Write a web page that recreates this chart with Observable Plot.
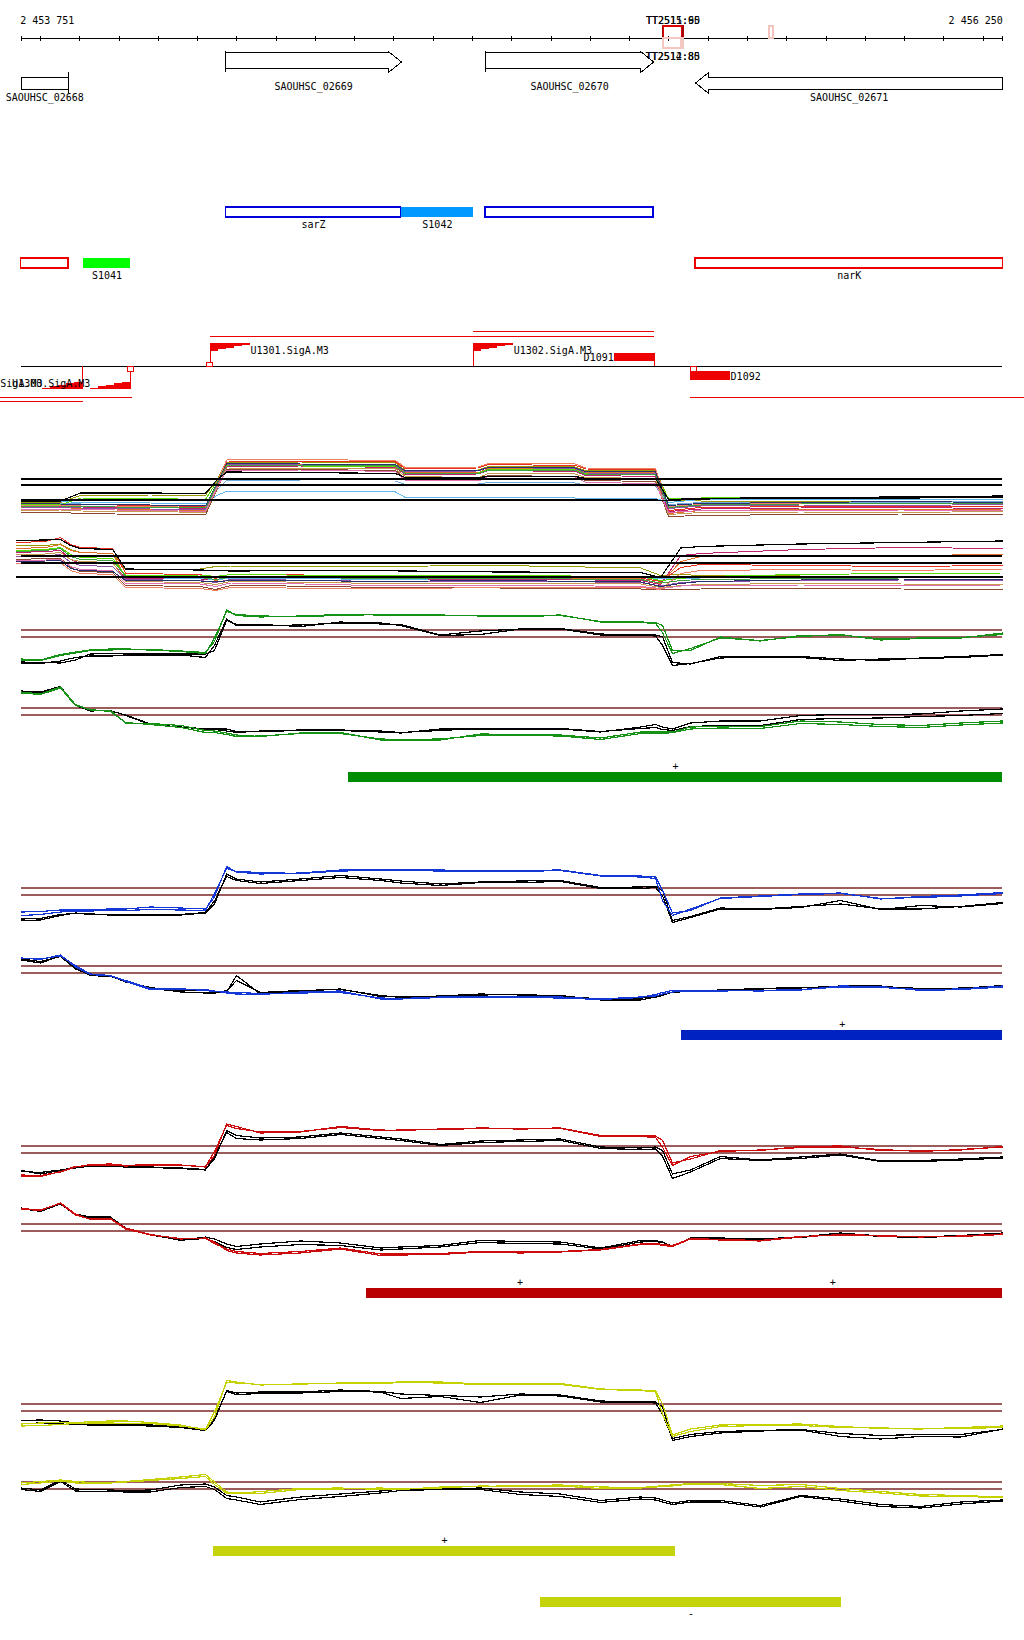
<!DOCTYPE html>
<html><head><meta charset="utf-8">
<script src="https://cdn.jsdelivr.net/npm/d3@7"></script>
<script src="https://cdn.jsdelivr.net/npm/@observablehq/plot@0.6"></script>
<style>
html,body{margin:0;padding:0;background:#fff;}
#chart{width:1024px;}
#chart svg{display:block;}
#chart svg path, #chart svg line, #chart svg rect{shape-rendering:crispEdges;}
</style></head><body><div id="chart"></div>
<script>
const START = 2453751, END = 2456250;

// ---- genes (top track)
const geneNames = ["SAOUHSC_02668","SAOUHSC_02669","SAOUHSC_02670","SAOUHSC_02671"];
const geneStarts = [2453700, 2454272, 2454933, 2455468];
const geneEnds = [2453871, 2454719, 2455361, 2456330];
const geneStrands = ["-","+","+","-"];

// ---- annotated features
const featNames = ["sarZ","S1042","","","S1041","narK"];
const featStarts = [2454272, 2454718, 2454933, 2453700, 2453910, 2455468];
const featEnds = [2454718, 2454903, 2455361, 2453871, 2454029, 2456330];
const featStrands = ["+","+","+","-","-","-"];
const featTypes = ["CDS","sRNA","CDS","CDS","sRNA","CDS"];

// ---- terminators
const termNames = ["TT2511","TT2515","TT2512","TT2514","TT2518"];
const termStarts = [2455384, 2455387, 2455384, 2455387, 2455656];
const termEnds = [2455437, 2455434, 2455437, 2455432, 2455666];
const termStrands = ["+","+","-","-","+"];
const termScores = [95, 60, 85, 80, 30];

// ---- promoters, TSS, D elements, transcripts
const promNames = ["U1299.SigA.M3","U1300.SigA.M3","U1301.SigA.M3","U1302.SigA.M3"];
const promPos = [2453907, 2454029, 2454233, 2454903];
const promStrands = ["-","-","+","+"];
const tssPos = [2454031, 2454232, 2455464];
const tssStrands = ["-","+","-"];
const dNames = ["D1091","D1092"];
const dStarts = [2455262, 2455455];
const dEnds = [2455363, 2455557];
const dStrands = ["+","-"];
const txStarts = [2454233, 2454903, 2453600, 2453600, 2455456];
const txEnds = [2455363, 2455363, 2454034, 2453910, 2456400];
const txStrands = ["+","+","-","-","-"];

// ---- multi-condition profiles (offsets in bp from START)
const multiPlusPos = [0,100,151,329,469,497,523,711,953,978,1164,1190,1411,1437,1615,1648,1730,1984,2239,2499];
const multiPlus = [
 [4.6,4.6,6.0,6.1,6.0,9.0,12.6,12.7,12.5,11.0,11.1,11.8,11.7,11.0,11.0,5.2,4.9,4.8,4.7,4.9],
 [4.2,4.3,4.2,4.0,3.8,8.0,12.9,12.8,12.7,11.4,11.5,12.2,12.0,11.3,11.2,3.0,3.6,3.8,3.9,3.7],
 [3.5,3.6,3.4,3.2,3.0,7.5,12.3,12.2,12.0,10.6,10.6,11.4,11.3,10.6,10.5,2.4,3.0,3.2,3.1,3.3],
 [3.9,3.8,3.7,3.6,3.4,8.0,11.8,11.9,11.6,10.2,10.3,11.0,10.8,10.0,9.8,2.8,3.3,3.5,3.6,3.4],
 [4.8,4.8,4.6,4.5,4.3,6.0,6.8,6.8,6.7,5.6,5.6,5.6,5.5,5.5,5.4,4.6,5.2,5.3,5.2,5.3],
 [4.4,4.4,4.3,4.1,4.0,7.0,9.0,8.9,8.9,8.2,8.3,8.6,8.5,8.0,7.9,4.2,4.6,4.7,4.6,4.8],
 [4.2,4.1,5.5,5.4,5.2,8.6,12.0,11.9,11.8,10.4,10.5,11.2,11.1,10.4,10.2,5.4,5.5,5.6,5.5,5.6],
 [2.6,2.6,2.4,2.2,2.1,7.0,11.2,11.2,11.0,9.4,9.2,10.0,9.8,9.0,8.8,1.8,2.0,2.2,2.3,2.1],
 [3.0,3.1,2.9,2.8,2.6,7.2,11.5,11.4,11.3,9.8,9.6,10.4,10.3,9.6,9.4,2.2,2.6,2.7,2.6,2.8],
 [3.7,3.6,3.5,3.3,3.2,7.8,12.2,12.3,12.0,10.8,10.9,11.6,11.4,10.5,10.4,3.4,3.9,4.1,4.0,4.2],
 [3.3,3.3,3.2,3.0,2.8,7.4,11.0,11.1,10.8,9.0,8.9,9.9,9.7,8.6,8.4,2.6,3.0,3.0,3.1,3.0],
 [4.0,4.0,3.9,3.8,3.6,8.3,13.1,13.2,13.0,11.6,11.7,12.4,12.3,11.5,11.4,3.8,4.2,4.4,4.3,4.4],
 [4.4,4.3,4.2,4.1,3.9,8.2,12.4,12.3,12.2,10.9,11.0,11.6,11.5,10.8,10.7,4.0,4.4,4.6,4.8,4.6],
 [3.8,3.9,3.8,3.6,3.5,8.0,12.1,12.0,11.9,10.4,10.4,11.1,11.0,10.2,10.1,3.6,4.1,4.3,4.4,4.3],
 [4.9,4.9,6.5,6.5,6.4,9.0,10.7,10.6,10.4,9.6,9.6,9.8,9.8,9.4,9.4,5.2,5.4,5.6,5.7,5.9],
 [5.1,5.1,5.1,5.1,5.1,5.1,5.1,5.1,5.1,5.1,5.1,5.1,5.1,5.1,5.1,5.0,5.3,5.5,5.5,5.6]
];
const multiPlusColors = ["#9a9a00","#e83020","#e07028","#c02070","#60b8f0","#70a8e0","#55dd00","#8b4a30","#c89a50","#9050a8","#e070b0","#f08060","#283070","#40a040","#000000","#000000"];
const multiPlusRefs = [9.3, 8.1];

const multiMinusPos = [-12,62,100,126,151,233,266,456,495,533,813,864,1220,1577,1628,1679,1730,1984,2239,2499];
const multiMinus = [
 [9.9,10.0,10.3,9.2,8.6,8.4,5.2,5.3,5.8,5.9,5.9,5.8,6.0,5.5,4.0,4.2,4.0,3.9,3.8,3.9],
 [10.6,10.8,11.6,10.2,9.6,9.4,4.4,4.2,3.4,4.3,4.0,3.6,3.8,3.5,2.8,5.6,6.2,6.0,5.8,6.0],
 [9.4,9.6,10.2,9.0,8.6,8.4,3.6,3.8,3.0,3.8,3.5,3.6,3.5,3.3,2.4,6.8,7.8,8.0,8.0,8.2],
 [8.6,8.8,9.0,7.2,6.4,6.4,3.4,3.3,3.2,3.6,3.4,3.2,3.3,3.0,2.2,8.0,8.4,9.2,9.6,9.4],
 [3.8,3.8,3.8,3.8,3.8,3.8,3.6,3.4,3.2,3.4,3.3,3.2,3.4,3.6,3.3,3.4,3.5,3.6,3.7,3.7],
 [9.0,9.2,9.6,8.2,7.6,7.4,4.0,4.1,3.8,4.2,4.0,3.9,4.0,3.8,3.0,3.4,3.8,4.2,4.4,4.5],
 [7.2,7.4,7.4,5.6,4.8,4.6,2.0,1.8,1.2,2.0,1.8,1.6,1.5,1.3,1.1,1.2,1.3,1.4,1.3,1.2],
 [8.2,8.3,8.6,7.2,6.8,6.6,2.8,2.6,2.2,2.8,2.6,2.4,2.5,2.3,1.6,2.0,2.2,2.4,2.3,2.2],
 [7.8,7.9,8.2,6.6,6.0,5.8,3.2,3.0,2.6,3.2,3.0,2.8,2.9,2.6,1.9,2.6,2.8,3.0,3.1,3.0],
 [7.0,7.1,7.2,5.8,5.2,5.0,2.4,2.3,1.8,2.5,2.2,2.0,2.1,1.8,1.4,1.9,2.0,2.1,2.0,2.1],
 [6.4,6.5,6.6,5.0,4.4,4.2,1.6,1.4,1.0,1.6,1.4,1.3,1.6,1.6,1.2,4.4,5.0,5.2,5.0,5.3],
 [6.8,6.9,7.0,5.4,5.0,4.8,3.0,2.9,2.7,3.0,2.9,2.8,3.0,2.7,1.8,2.4,2.8,3.1,3.3,3.2],
 [8.8,9.0,9.4,7.8,7.2,7.0,3.8,3.6,3.2,3.7,3.5,3.4,3.4,3.2,2.5,3.0,3.2,3.4,3.5,3.6],
 [11.0,11.1,11.2,10.0,9.4,9.2,5.3,5.1,5.0,4.9,5.0,5.0,4.7,4.6,3.6,9.5,9.8,10.3,10.6,10.9],
 [3.7,3.7,3.7,3.7,3.7,3.7,3.7,3.7,3.7,3.7,3.7,3.7,3.7,3.7,3.7,3.7,3.7,3.7,3.7,3.7]
];
const multiMinusColors = ["#9a9a00","#e83020","#e07028","#c02070","#60b8f0","#55dd00","#8b4a30","#c89a50","#9050a8","#e070b0","#f08060","#283070","#40a040","#000000","#000000"];
const multiMinusRefs = [7.9, 6.5];

// ---- per-condition profiles: shared positions (bp offsets)
const profilePos = [0,49,100,138,176,227,266,329,406,469,492,523,548,609,711,813,915,966,1067,1169,1271,1373,1475,1577,1615,1633,1658,1704,1780,1882,1984,2086,2188,2290,2392,2499];
const fwdRefs = [8.1, 6.7];
const revRefs = [7.5, 6.1];

const greenFwd1 = [2.3,2.1,3.2,3.7,4.1,4.3,4.3,4.2,3.9,3.6,5.8,12.1,11.0,10.7,10.9,11.2,11.1,11.1,11.1,10.9,10.9,11.1,9.7,9.7,9.6,9.0,4.0,4.0,6.7,5.9,7.0,7.1,6.3,6.5,6.5,7.5];
const greenFwd2 = [2.1,2.0,3.0,3.5,4.0,4.1,4.2,4.1,3.8,3.4,6.5,11.8,11.2,10.9,10.8,11.0,11.2,11.0,11.0,11.0,10.8,11.0,9.8,9.6,9.4,7.5,3.4,4.4,6.5,6.0,6.8,7.2,6.1,6.4,6.6,7.2];
const greenFwdCtl1 = [1.7,1.6,1.5,2.1,3.3,3.4,3.3,3.3,3.3,3.3,4.0,10.0,9.2,9.2,8.8,9.7,9.3,9.2,7.1,7.9,8.3,8.3,7.1,7.1,7.1,6.7,1.6,1.3,2.8,2.8,2.8,2.3,2.0,2.5,2.8,3.2];
const greenFwdCtl2 = [1.5,1.4,1.9,2.6,2.9,2.9,3.0,3.0,3.1,2.6,5.0,10.3,9.0,9.0,9.1,9.5,9.5,9.0,7.0,7.2,8.3,8.4,7.3,7.0,6.9,5.0,1.0,1.4,2.5,2.7,2.6,2.0,2.3,2.4,2.6,3.1];
const greenRev1 = [10.7,10.3,11.7,8.2,7.1,7.0,4.5,4.4,4.0,3.0,2.9,2.5,2.1,1.8,2.5,2.6,1.1,1.1,1.1,2.3,2.2,2.1,1.5,2.7,2.7,2.7,2.7,3.7,3.8,3.8,4.9,4.7,4.2,4.0,4.5,4.9];
const greenRev2 = [10.5,10.2,11.5,8.0,7.2,6.8,4.6,4.2,3.6,2.6,2.6,2.2,1.8,1.9,2.4,2.4,1.3,1.2,1.3,2.0,2.0,1.9,1.2,2.4,2.5,2.4,2.6,3.3,3.5,3.4,4.4,4.2,3.8,3.6,4.1,4.5];
const greenRevCtl1 = [10.9,10.7,11.8,8.1,6.9,7.0,6.0,4.2,3.7,3.3,3.3,3.3,2.8,2.8,3.0,3.0,2.7,2.5,3.3,3.3,3.3,3.3,2.7,3.7,4.2,3.7,3.3,4.5,4.9,4.9,6.0,6.2,6.2,6.3,6.9,7.3];
const greenRevCtl2 = [10.7,10.5,11.6,8.0,7.0,6.9,6.1,4.3,3.6,3.4,3.2,2.9,2.6,2.9,3.1,3.1,2.9,2.6,3.0,3.4,3.4,3.4,2.8,3.4,3.6,3.2,3.0,3.8,4.0,4.0,5.2,5.4,5.5,5.8,6.0,6.4];

const blueFwd1 = [3.3,3.4,3.7,3.7,3.8,3.9,3.9,4.3,4.1,3.9,6.3,12.4,11.3,10.9,11.1,11.7,11.7,11.7,11.7,11.5,11.6,11.7,10.6,10.5,10.3,7.6,3.1,3.6,6.1,6.5,6.9,7.1,5.9,6.4,6.7,7.2];
const blueFwd2 = [2.6,2.8,3.3,3.5,3.5,3.6,3.6,3.8,3.7,3.6,7.0,12.0,11.4,11.2,11.0,11.5,11.6,11.6,11.5,11.4,11.4,11.6,10.5,10.3,10.0,5.5,2.6,3.9,6.0,6.4,6.8,7.0,6.0,6.2,6.5,7.0];
const blueFwdCtl1 = [1.6,1.7,2.6,3.1,2.8,2.7,2.6,2.6,2.7,3.1,4.9,10.9,9.9,9.3,9.9,10.6,9.9,9.5,8.9,9.3,9.5,9.6,8.2,8.3,8.4,7.6,1.6,2.4,4.1,3.9,4.4,4.9,3.9,3.9,4.4,5.2];
const blueFwdCtl2 = [1.9,2.0,2.8,3.0,2.9,2.8,2.8,2.7,2.8,3.2,5.5,10.4,9.6,9.0,9.6,10.2,9.6,9.1,8.6,9.2,9.2,9.4,8.0,8.0,8.2,6.5,1.2,2.2,3.9,3.8,4.2,5.6,3.8,4.6,4.3,5.0];
const blueRev1 = [9.1,8.8,9.7,7.3,5.8,5.5,4.6,3.0,2.9,2.8,2.5,2.1,1.9,1.8,2.3,2.5,0.9,0.9,1.2,1.4,1.3,1.3,0.9,1.3,1.5,1.9,2.3,2.6,2.6,2.5,2.7,3.5,3.4,2.6,2.8,3.3];
const blueRev2 = [9.0,8.9,9.5,7.6,5.9,5.6,4.4,2.8,2.9,2.6,2.4,2.3,2.2,2.0,2.1,2.2,1.1,1.0,1.3,1.3,1.2,1.1,0.8,1.2,1.8,2.2,2.6,2.4,2.5,2.6,2.8,3.3,3.2,2.8,2.9,3.5];
const blueRevCtl1 = [8.7,8.1,9.5,6.9,5.8,5.5,4.3,3.2,2.3,2.1,2.1,2.3,5.6,1.9,2.5,2.9,1.4,1.3,1.5,1.9,1.7,1.6,0.7,0.7,1.3,1.6,2.3,2.6,2.6,2.9,3.1,3.5,3.5,2.8,3.1,3.5];
const blueRevCtl2 = [8.9,8.4,9.4,7.0,5.6,5.4,4.5,2.9,2.5,2.6,2.4,2.5,4.6,2.2,2.6,2.8,1.6,1.2,1.4,1.7,1.8,1.5,0.9,1.1,1.2,1.8,2.2,2.5,2.7,3.0,3.2,3.3,3.4,3.0,3.0,3.6];

const redFwd1 = [2.3,2.2,2.9,3.9,4.4,4.5,4.2,4.4,4.3,3.9,6.2,12.5,12.0,10.7,10.9,12.0,11.3,11.2,11.5,11.7,11.6,11.7,10.2,10.1,10.1,9.2,4.7,5.5,7.2,7.2,8.0,8.1,7.2,7.1,7.3,8.0];
const redFwd2 = [2.0,2.0,3.0,4.0,4.2,4.3,4.1,4.3,4.2,4.0,7.0,12.2,11.6,10.9,11.0,11.8,11.2,11.3,11.4,11.6,11.5,11.6,10.0,10.0,9.8,7.8,4.2,6.0,7.0,7.3,7.8,7.9,7.4,7.0,7.4,7.9];
const redFwdCtl1 = [3.2,2.5,3.2,3.7,4.1,4.2,4.1,3.9,3.7,3.4,5.5,11.2,10.2,9.7,9.9,10.7,9.9,9.5,8.4,9.1,9.3,9.5,7.9,7.7,7.9,7.2,2.5,3.3,6.0,5.3,5.9,6.5,5.1,5.2,5.5,5.9];
const redFwdCtl2 = [3.0,2.8,3.3,3.8,4.0,4.0,3.9,3.8,3.6,3.3,6.0,10.8,9.6,9.3,9.6,10.4,9.6,9.2,8.2,8.8,9.0,9.2,7.6,7.4,7.5,6.0,1.6,2.9,5.6,5.2,5.6,6.3,5.0,5.0,5.3,5.7];
const redRev1 = [10.5,10.2,11.7,9.5,8.4,8.6,6.7,5.4,4.5,4.7,3.9,2.2,1.7,1.3,1.7,2.5,1.2,1.3,1.4,1.9,1.7,1.9,2.3,3.4,3.5,3.2,3.0,4.5,4.3,4.1,4.9,5.4,5.2,4.9,5.1,5.5];
const redRev2 = [10.6,10.3,11.6,9.3,8.5,8.5,6.5,5.3,4.6,4.6,3.6,2.5,2.0,1.6,2.0,2.7,1.5,1.5,1.6,2.0,1.9,2.0,2.4,3.5,3.6,3.4,3.2,4.6,4.4,4.2,5.0,5.3,5.1,5.0,5.0,5.4];
const redRevCtl1 = [10.7,10.1,11.7,9.5,8.9,8.9,6.7,5.4,4.2,4.9,4.5,3.5,3.0,3.5,4.1,3.7,2.7,2.9,3.2,4.2,4.0,3.9,2.7,4.2,4.2,3.9,3.0,4.7,4.7,4.5,4.9,5.7,5.1,4.9,5.2,5.7];
const redRevCtl2 = [10.6,10.0,11.5,9.3,8.8,8.7,6.6,5.3,4.3,4.6,4.0,2.8,2.4,2.9,3.4,3.2,2.3,2.5,2.9,3.8,3.6,3.5,2.5,3.9,4.0,3.8,3.0,4.6,4.5,4.4,4.8,5.6,5.0,4.8,5.1,5.6];

const yellowFwd1 = [4.1,4.3,4.4,4.3,4.6,4.7,4.7,4.4,3.9,2.9,5.5,12.8,12.5,11.9,12.1,12.3,12.4,12.5,12.5,12.1,12.1,12.2,11.1,10.9,10.7,8.1,1.9,3.1,3.9,4.0,4.1,3.6,3.2,3.1,3.4,3.7];
const yellowFwd2 = [3.7,3.8,4.0,4.2,4.3,4.3,4.2,4.2,3.7,3.1,6.5,12.4,12.3,12.0,12.1,12.2,12.2,12.4,12.3,12.0,12.0,12.0,11.0,10.8,10.5,6.0,1.6,2.6,3.6,3.8,3.8,3.4,3.3,3.2,3.2,3.4];
const yellowFwdCtl1 = [4.8,4.9,4.7,4.3,4.2,4.1,4.0,3.9,3.6,2.8,4.8,10.8,10.3,10.5,10.5,10.9,10.6,10.1,9.8,9.5,10.1,9.9,8.7,8.5,8.5,7.5,0.8,1.6,2.3,2.7,2.9,1.6,1.1,1.6,1.5,3.1];
const yellowFwdCtl2 = [4.2,4.3,4.1,4.0,3.9,3.9,3.8,3.7,3.4,2.8,5.2,10.6,10.0,10.2,10.3,10.6,10.5,9.2,9.6,8.4,9.9,9.7,8.5,8.4,8.3,6.0,1.2,2.0,2.6,2.8,3.0,2.2,1.8,2.0,2.0,3.0];
const yellowRev1 = [7.3,7.6,7.9,7.6,7.4,7.4,7.6,8.0,8.5,9.0,7.5,5.5,5.3,5.2,6.0,6.1,6.3,6.1,6.3,6.7,6.6,6.7,6.2,6.3,6.5,6.6,6.7,7.1,7.0,6.2,6.6,5.8,5.3,4.7,4.6,4.4];
const yellowRev2 = [7.0,7.3,7.7,7.3,7.2,7.3,7.5,7.8,8.2,8.6,7.0,5.2,5.2,5.6,6.2,6.3,6.0,6.0,6.5,6.6,6.8,6.9,6.5,6.4,6.6,6.8,6.9,7.2,7.2,6.8,7.0,6.2,5.6,5.0,4.8,4.5];
const yellowRevCtl1 = [6.3,5.9,7.9,6.1,6.0,5.9,5.8,5.9,6.9,7.1,6.5,4.8,4.5,3.5,4.5,5.1,5.7,6.1,6.1,6.3,5.5,5.1,3.8,4.5,4.3,3.9,3.3,3.8,3.8,2.8,4.8,4.1,3.0,2.6,3.5,3.9];
const yellowRevCtl2 = [6.0,5.6,7.6,5.7,5.6,5.6,5.5,5.5,6.4,6.6,6.0,4.2,3.9,3.0,4.0,4.6,5.3,5.8,6.0,6.0,5.0,4.6,3.4,4.1,3.9,3.5,3.0,3.5,3.5,2.5,4.6,3.7,2.6,2.3,3.1,3.7];

// ---- segments (coloured bars)
const segBlocks = ["green","blue","red","red","yellow","yellow"];
const segStarts = [2454583, 2455432, 2454630, 2455384, 2454241, 2455073];
const segEnds = [2456300, 2456300, 2455412, 2456300, 2455417, 2455839];
const segStrands = ["+","+","+","+","+","-"];

// ================= styles / layout =================
const blockStyles = {
  green: {line:"#169216", bar:"#008c00"},
  blue: {line:"#1438d8", bar:"#0022c0"},
  red: {line:"#cc0c0c", bar:"#bb0000"},
  yellow: {line:"#c6d200", bar:"#c5d40a"}
};
const REF_COLOR = "#9c5c5c";
const L = {
  axisLabel: 20, axis: 38, tick: [36, 41],
  ttUp: [26, 38], ttDn: [38, 48], ttUpLabel: 20, ttDnLabel: 56,
  geneFwd: {top:52, bot:68, headTop:51, headBot:72, tick:[51,72], label:86},
  geneRev: {top:77, bot:89, headTop:72, headBot:93, tick:[72,93], label:97},
  featFwd: {y1:207, y2:217, label:224},
  featRev: {y1:258, y2:268, label:275},
  prom: {line:366, fwdTop:343, revBot:389, flagH:8, fwdLabel:350, revLabel:383},
  tssFwd: [362, 366], tssRev: [366, 371],
  dFwd: [353, 361], dRev: [371, 380], dFwdLabel: 357, dRevLabel: 376,
  txFwd: 336, txRev: 397, txStep: 5
};
const FONT = {fontFamily:"'DejaVu Sans Mono', monospace", fontSize:"10px", background:"#ffffff", color:"#000000"};
const X = {domain:[START, END], range:[20.7, 1002.3]};
const bpPerPx = (END - START) / (X.range[1] - X.range[0]);
const fmtBp = d3.formatLocale({thousands:" ", grouping:[3], decimal:".", currency:["",""]}).format(",");
const chart = document.getElementById("chart");
const clampS = v => Math.max(v, START), clampE = v => Math.min(v, END);

function add(height, y, marks) {
  const svg = Plot.plot({width:1024, height, margin:0, x:{...X, axis:null}, y:{...y, axis:null},
    color:{type:"identity"}, style:FONT, marks});
  chart.appendChild(svg);
}

// ================= annotation tracks =================
const genes = geneNames.map((name,i)=>({name, start:geneStarts[i], end:geneEnds[i], strand:geneStrands[i]}));
const HEAD = 13 * bpPerPx;
const geneOutline = genes.flatMap(g => {
  const G = g.strand === "+" ? L.geneFwd : L.geneRev;
  const s = clampS(g.start), e = clampE(g.end);
  const head = g.strand === "+" ? g.end <= END : g.start >= START;
  const mid = (G.headTop + G.headBot) / 2;
  let pts;
  if (!head) pts = [[s,G.top],[e,G.top],[e,G.bot],[s,G.bot],[s,G.top]];
  else if (g.strand === "+") { const h = e - Math.min(HEAD, e - s); pts = [[s,G.top],[h,G.top],[h,G.headTop],[e,mid],[h,G.headBot],[h,G.bot],[s,G.bot],[s,G.top]]; }
  else { const h = s + Math.min(HEAD, e - s); pts = [[e,G.top],[h,G.top],[h,G.headTop],[s,mid],[h,G.headBot],[h,G.bot],[e,G.bot],[e,G.top]]; }
  return pts.map(([x,y]) => ({id:g.name, x, y}));
});
const geneTicks = genes.filter(g => g.strand === "+" ? g.start >= START : g.end <= END)
  .map(g => ({x: g.strand === "+" ? g.start : g.end, G: g.strand === "+" ? L.geneFwd : L.geneRev}));

const features = featNames.map((name,i)=>({name, start:featStarts[i], end:featEnds[i], strand:featStrands[i], type:featTypes[i]}));
const featureFill = {S1041:"#00ff00", S1042:"#0099ff"};
const featureStroke = {"+":"#0000dd", "-":"#ee0000"};
const terms = termNames.map((name,i)=>({name, start:termStarts[i], end:termEnds[i], strand:termStrands[i], score:termScores[i]}));
const proms = promNames.map((name,i)=>({name, pos:promPos[i], strand:promStrands[i]}));
const FLAG = 40 * bpPerPx;
const flagFwd = proms.filter(p=>p.strand==="+").flatMap(p => d3.range(6).map(i => ({id:p.name, x:p.pos + i*FLAG/5, y1:L.prom.fwdTop, y2:L.prom.fwdTop + L.prom.flagH*(1 - i/5)})));
const flagRev = proms.filter(p=>p.strand==="-").flatMap(p => d3.range(6).map(i => ({id:p.name, x:p.pos - FLAG + i*FLAG/5, y1:L.prom.revBot - L.prom.flagH*0.9*(i/5), y2:L.prom.revBot})));
const tss = tssPos.map((pos,i)=>({pos, strand:tssStrands[i]}));
const dEls = dNames.map((name,i)=>({name, start:dStarts[i], end:dEnds[i], strand:dStrands[i]}));
// stack transcripts into lanes
const tx = txStarts.map((start,i)=>({start, end:txEnds[i], strand:txStrands[i]}));
for (const strand of ["+","-"]) {
  const lanes = [];
  tx.filter(t=>t.strand===strand).sort((a,b)=>a.start-b.start).forEach(t => {
    let k = lanes.findIndex(e => e < t.start);
    if (k < 0) { k = lanes.length; lanes.push(t.end); } else lanes[k] = t.end;
    t.lane = k;
  });
}
const tickPos = d3.range(2453800, END, 100).concat([START, END]);

add(425, {domain:[0,425], range:[0,425]}, [
  // coordinate axis
  Plot.ruleX(tickPos, {x:d=>d, y1:L.tick[0], y2:L.tick[1], stroke:"#000"}),
  Plot.ruleY([L.axis], {x1:START, x2:END, stroke:"#000", strokeWidth:1.3}),
  Plot.text([START], {x:d=>d, y:L.axisLabel, text:d=>fmtBp(d), textAnchor:"start", dx:-1}),
  Plot.text([END], {x:d=>d, y:L.axisLabel, text:d=>fmtBp(d), textAnchor:"end"}),
  // terminators
  Plot.rect(terms, {x1:"start", x2:"end", y1:d=>d.strand==="+"?L.ttUp[0]:L.ttDn[0], y2:d=>d.strand==="+"?L.ttUp[1]:L.ttDn[1],
    fill:"none", stroke:d=>d.strand==="+" ? (d.score>=90?"#a80000":d.score>=50?"#e00000":"#f2c4bc") : "#f4c8c0", strokeWidth:1.2}),
  Plot.text(terms.filter(d=>d.score>=50), {x:d=>(d.start+d.end)/2, y:d=>d.strand==="+"?L.ttUpLabel:L.ttDnLabel, text:d=>`${d.name}:${d.score}`}),
  // genes
  Plot.line(geneOutline, {x:"x", y:"y", z:"id", stroke:"#000", fill:"#fff", strokeWidth:1}),
  Plot.ruleX(geneTicks, {x:"x", y1:d=>d.G.tick[0], y2:d=>d.G.tick[1], stroke:"#000"}),
  Plot.text(genes, {x:d=>(clampS(d.start)+clampE(d.end))/2, y:d=>d.strand==="+"?L.geneFwd.label:L.geneRev.label, text:"name"}),
  // features
  Plot.rect(features, {x1:d=>clampS(d.start), x2:d=>clampE(d.end), y1:d=>d.strand==="+"?L.featFwd.y1:L.featRev.y1, y2:d=>d.strand==="+"?L.featFwd.y2:L.featRev.y2,
    fill:d=>d.type==="sRNA"?featureFill[d.name]:"none", stroke:d=>d.type==="sRNA"?"none":featureStroke[d.strand], strokeWidth:1.4}),
  Plot.text(features, {x:d=>(clampS(d.start)+clampE(d.end))/2, y:d=>d.strand==="+"?L.featFwd.label:L.featRev.label, text:"name"}),
  // promoter / transcript track
  Plot.ruleY(tx, {y:d=>d.strand==="+" ? L.txFwd - L.txStep*d.lane : L.txRev + (L.txStep-1)*d.lane, x1:"start", x2:"end", stroke:"#ee0000", strokeWidth:1}),
  Plot.ruleY([L.prom.line], {x1:START, x2:END, stroke:"#000", strokeWidth:1.2}),
  Plot.ruleX(proms, {x:"pos", y1:d=>d.strand==="+"?L.prom.fwdTop:L.prom.line, y2:d=>d.strand==="+"?L.prom.line:L.prom.revBot, stroke:"#ee0000"}),
  Plot.area(flagFwd, {x1:"x", y1:"y1", y2:"y2", z:"id", fill:"#ee0000", curve:"step-after"}),
  Plot.area(flagRev, {x1:"x", y1:"y1", y2:"y2", z:"id", fill:"#ee0000", curve:"step-before"}),
  Plot.text(proms.filter(p=>p.strand==="+"), {x:d=>d.pos+FLAG, y:L.prom.fwdLabel, text:"name", textAnchor:"start"}),
  Plot.text(proms.filter(p=>p.strand==="-"), {x:d=>d.pos-FLAG, y:L.prom.revLabel, text:"name", textAnchor:"end"}),
  Plot.rect(dEls, {x1:"start", x2:"end", y1:d=>d.strand==="+"?L.dFwd[0]:L.dRev[0], y2:d=>d.strand==="+"?L.dFwd[1]:L.dRev[1], fill:"#ee0000"}),
  Plot.ruleX(dEls.filter(d=>d.strand==="+"), {x:"end", y1:L.dFwd[0], y2:L.prom.line, stroke:"#ee0000"}),
  Plot.text(dEls.filter(d=>d.strand==="+"), {x:"start", y:L.dFwdLabel, text:"name", textAnchor:"end", dx:-1}),
  Plot.text(dEls.filter(d=>d.strand==="-"), {x:"end", y:L.dRevLabel, text:"name", textAnchor:"start"}),
  Plot.rect(tss, {x1:d=>d.pos-3*bpPerPx, x2:d=>d.pos+3*bpPerPx, y1:d=>d.strand==="+"?L.tssFwd[0]:L.tssRev[0], y2:d=>d.strand==="+"?L.tssFwd[1]:L.tssRev[1], fill:"#fff", stroke:"#ee0000"})
]);

// ================= multi-condition panels =================
function multiRows(pos, series, colors) {
  return series.flatMap((vals, k) => vals.map((v,i) => ({pos:START+pos[i], v, id:k, color:colors[k]})));
}
const plusRows = multiRows(multiPlusPos, multiPlus, multiPlusColors);
add(100, {domain:[0,20], range:[100,0]}, [
  Plot.line(plusRows.filter(d=>d.color!=="#000000"), {x:"pos", y:"v", z:"id", stroke:"color", strokeWidth:1}),
  Plot.ruleY(multiPlusRefs, {x1:START, x2:END, stroke:"#000", strokeWidth:1.3}),
  Plot.line(plusRows.filter(d=>d.color==="#000000"), {x:"pos", y:"v", z:"id", stroke:"color", strokeWidth:1.2})
]);
const minusRows = multiRows(multiMinusPos, multiMinus, multiMinusColors);
add(70, {domain:[0,14], range:[70,0]}, [
  Plot.line(minusRows.filter(d=>d.color!=="#000000"), {x:"pos", y:"v", z:"id", stroke:"color", strokeWidth:1}),
  Plot.ruleY(multiMinusRefs, {x1:START, x2:END, stroke:"#000", strokeWidth:1.3}),
  Plot.line(minusRows.filter(d=>d.color==="#000000"), {x:"pos", y:"v", z:"id", stroke:"color", strokeWidth:1.2})
]);

// ================= per-condition blocks =================
const segs = segBlocks.map((block,i)=>({block, start:segStarts[i], end:segEnds[i], strand:segStrands[i]}));
const blocks = [
  {key:"green", fwd:[greenFwd1, greenFwd2], fwdCtl:[greenFwdCtl1, greenFwdCtl2], rev:[greenRev1, greenRev2], revCtl:[greenRevCtl1, greenRevCtl2]},
  {key:"blue", fwd:[blueFwd1, blueFwd2], fwdCtl:[blueFwdCtl1, blueFwdCtl2], rev:[blueRev1, blueRev2], revCtl:[blueRevCtl1, blueRevCtl2]},
  {key:"red", fwd:[redFwd1, redFwd2], fwdCtl:[redFwdCtl1, redFwdCtl2], rev:[redRev1, redRev2], revCtl:[redRevCtl1, redRevCtl2]},
  {key:"yellow", fwd:[yellowFwd1, yellowFwd2], fwdCtl:[yellowFwdCtl1, yellowFwdCtl2], rev:[yellowRev1, yellowRev2], revCtl:[yellowRevCtl1, yellowRevCtl2]}
];
function profRows(list, color) {
  return list.flatMap((vals,k) => vals.map((v,i)=>({pos:START+profilePos[i], v, id:k, color})));
}
blocks.forEach((b, bi) => {
  const st = blockStyles[b.key];
  for (const [vals, ctl, refs] of [[b.fwd, b.fwdCtl, fwdRefs], [b.rev, b.revCtl, revRefs]]) {
    add(75, {domain:[0,15], range:[75,0]}, [
      Plot.ruleY(refs, {x1:START, x2:END, stroke:REF_COLOR, strokeWidth:1.2}),
      Plot.line(profRows(ctl, "#000000"), {x:"pos", y:"v", z:"id", stroke:"color", strokeWidth:1.2}),
      Plot.line(profRows(vals, st.line), {x:"pos", y:"v", z:"id", stroke:"color", strokeWidth:1.2})
    ]);
  }
  const rows = segs.filter(s => s.block === b.key);
  const mid = d => (clampS(d.start) + clampE(d.end)) / 2;
  add(bi === blocks.length - 1 ? 121 : 108, {type:"band", domain:["+","-"], range:[27, 88], paddingInner:0.804, paddingOuter:0, align:0}, [
    Plot.barX(rows, {x1:d=>clampS(d.start), x2:d=>clampE(d.end), y:"strand", fill:st.bar}),
    Plot.text(rows.filter(d=>d.strand==="+"), {x:mid, y:"strand", text:"strand", dy:-11}),
    Plot.text(rows.filter(d=>d.strand==="-"), {x:mid, y:"strand", text:"strand", dy:11})
  ]);
});
</script></body></html>
